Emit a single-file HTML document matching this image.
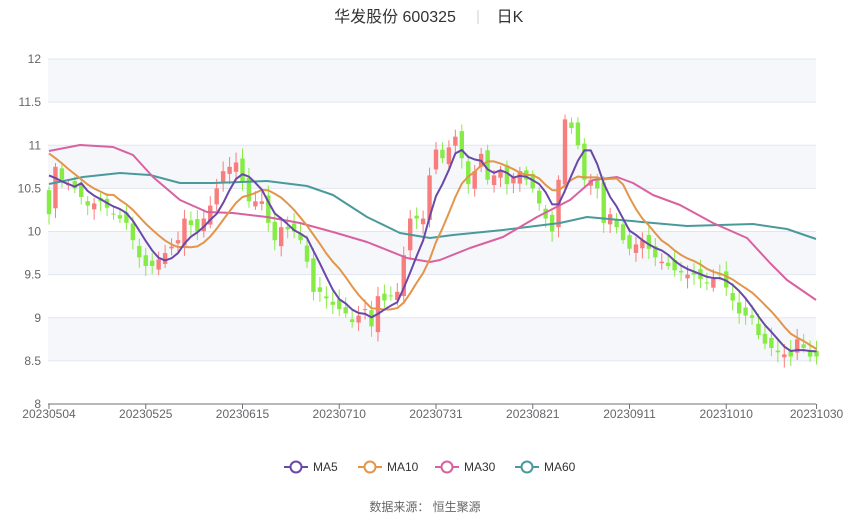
<!DOCTYPE html>
<html><head><meta charset="utf-8"><style>
body{margin:0;background:#fff;width:850px;height:517px;overflow:hidden;font-family:"Liberation Sans","Noto Sans CJK SC",sans-serif}
</style></head><body>
<svg id="s" width="850" height="517" xmlns="http://www.w3.org/2000/svg" font-family="Liberation Sans, Noto Sans CJK SC, sans-serif">
<text x="395" y="22" font-size="16" fill="#333" text-anchor="middle">华发股份 600325</text>
<line x1="478" y1="10" x2="478" y2="24" stroke="#ccc"/>
<text x="510" y="22" font-size="16" fill="#333" text-anchor="middle">日K</text>
<g id="g"></g>
<text x="425" y="511" font-size="12" fill="#666" text-anchor="middle">数据来源：  恒生聚源</text>
</svg>
<script>
const g=document.getElementById('g');let h='';
const Y=p=>59+(12-p)*86.25, X=i=>49+i*6.45;
for(let k=0;k<8;k++){const p=12-k*0.5;if(k%2==0)h+=`<rect x="48" y="${Y(p)}" width="768" height="43.1" fill="#f5f7fb"/>`;}
for(let k=0;k<=8;k++){const p=12-k*0.5,y=Y(p);if(k<8)h+=`<line x1="48" x2="816" y1="${y}" y2="${y}" stroke="#e0e6f1"/>`;h+=`<text x="41" y="${y+4}" font-size="12" fill="#666" text-anchor="end">${p}</text>`;}
h+=`<line x1="48" x2="816" y1="404" y2="404" stroke="#6e7079"/>`;
const tk=[[0,'20230504'],[15,'20230525'],[30,'20230615'],[45,'20230710'],[60,'20230731'],[75,'20230821'],[90,'20230911'],[105,'20231010'],[119,'20231030']];
tk.forEach(([i,t])=>{const x=X(i);h+=`<line x1="${x}" x2="${x}" y1="404" y2="409" stroke="#6e7079"/><text x="${x}" y="418" font-size="12" fill="#666" text-anchor="middle">${t}</text>`;});
const kp=[[0,10.2],[1,10.75],[2,10.6],[3,10.55],[4,10.5],[6,10.3],[8,10.35],[10,10.2],[12,10.1],[14,9.7],[15,9.6],[16,9.6],[18,9.75],[20,9.9],[21,10.15],[23,10.0],[25,10.3],[27,10.7],[28,10.75],[29,10.8],[31,10.35],[33,10.35],[34,10.1],[35,9.9],[36,10.05],[38,10.0],[39,9.9],[40,9.65],[41,9.3],[42,9.3],[44,9.15],[46,9.05],[47,8.95],[49,9.1],[50,8.9],[51,9.25],[52,9.2],[54,9.3],[56,10.15],[58,10.15],[59,10.65],[60,10.95],[61,10.85],[63,11.1],[64,10.85],[65,10.55],[66,10.7],[67,10.9],[68,10.6],[70,10.7],[71,10.55],[73,10.7],[75,10.5],[77,10.15],[78,10.0],[79,10.6],[80,11.3],[81,11.2],[82,11.0],[83,10.6],[84,10.6],[85,10.5],[86,10.1],[87,10.2],[89,9.9],[90,9.8],[92,9.9],[94,9.7],[96,9.6],[97,9.55],[99,9.5],[100,9.5],[102,9.4],[104,9.5],[106,9.2],[107,9.05],[109,9.0],[110,8.8],[111,8.7],[113,8.6],[115,8.55],[116,8.75],[118,8.55],[119,8.55]];
const c=[];for(let i=0;i<120;i++){let j=0;while(j<kp.length-2&&kp[j+1][0]<i)j++;const a=kp[j],b=kp[j+1];const t=(i-a[0])/(b[0]-a[0]);c.push(a[1]+(b[1]-a[1])*t);}
const pad=[11.3,11.2,11.2,11.1,11.0,10.9,10.8,10.7,10.65];const all=pad.concat(c);
function ma(n){const r=[];for(let i=0;i<120;i++){let s=0;for(let k=0;k<n;k++)s+=all[i+9-k];r.push(s/n);}return r;}
for(let i=0;i<120;i++){const cl=c[i];const op=i?c[i-1]+0.07*Math.sin(i*1.7):10.48;const up=cl>=op;const col=up?'#f87d7d':'#86ec45';const hi=Math.max(op,cl)+0.04+0.08*Math.abs(Math.sin(i*3.1)),lo=Math.min(op,cl)-0.04-0.08*Math.abs(Math.cos(i*2.7));const x=X(i);
h+=`<line x1="${x}" x2="${x}" y1="${Y(hi)}" y2="${Y(lo)}" stroke="${col}"/><rect x="${x-2.2}" y="${Y(Math.max(op,cl))}" width="4.4" height="${Math.max(1,Math.abs(Y(op)-Y(cl)))}" fill="${col}"/>`;}
const pl=(pts,col)=>`<polyline fill="none" stroke="${col}" stroke-width="2" stroke-linejoin="round" points="${pts.map(p=>p.join(',')).join(' ')}"/>`;
const m5=ma(5),m10=ma(10);
h+=pl([[49,184],[83,177],[120,173],[150,175],[180,183],[213,183],[267,181],[307,186],[333,195],[367,217],[400,233],[430,238],[453,235],[503,230],[560,223],[587,217],[620,220],[687,226],[753,224],[787,229],[816,239]],'#4a9a9c');
h+=pl([[49,151],[80,145],[113,147],[133,155],[153,177],[180,200],[207,212],[233,213],[267,217],[300,223],[333,232],[367,242],[407,258],[430,262],[440,260],[470,248],[503,237],[537,217],[570,200],[593,180],[617,177],[633,183],[653,195],[680,205],[713,223],[747,238],[770,263],[787,280],[816,300]],'#d9619f');
h+=pl(m10.map((v,i)=>[X(i),Y(v)]),'#e3954a');
h+=pl(m5.map((v,i)=>[X(i),Y(v)]),'#6a48a8');
[[296,'MA5','#6a48a8'],[370,'MA10','#e3954a'],[447,'MA30','#d9619f'],[527,'MA60','#4a9a9c']].forEach(([x,t,col])=>{h+=`<line x1="${x-12}" x2="${x+12}" y1="467" y2="467" stroke="${col}" stroke-width="2"/><circle cx="${x}" cy="467" r="5.5" fill="#fff" stroke="${col}" stroke-width="2"/><text x="${x+17}" y="471" font-size="12" fill="#333">${t}</text>`;});
g.innerHTML=h;
</script>
</body></html>
